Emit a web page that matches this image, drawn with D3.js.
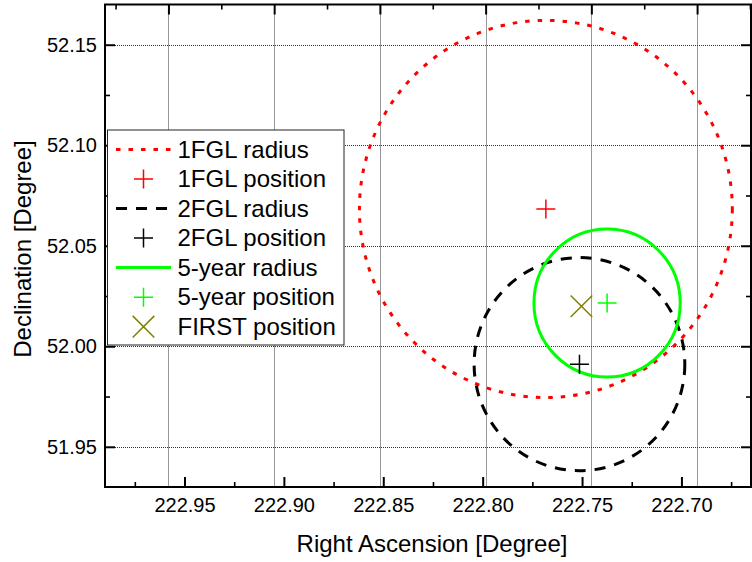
<!DOCTYPE html>
<html>
<head>
<meta charset="utf-8">
<script src="https://cdn.jsdelivr.net/npm/d3@7/dist/d3.min.js"></script>
<style>
  body { margin: 0; background: #fff; }
  text { font-family: "Liberation Sans", Arial, sans-serif; fill: #000; }
</style>
</head>
<body>
<svg id="chart" width="752" height="562"></svg>
<script>
// axis ranges (degrees)
var raRange = [222.99, 222.665];
var raTopRange = [222.98, 222.6745];   // top axis (grid) is offset from bottom one
var decRange = [51.93, 52.17];

var raTicks = [222.95, 222.90, 222.85, 222.80, 222.75, 222.70];
var raMinor = [222.975, 222.925, 222.875, 222.825, 222.775, 222.725, 222.675];
var decTicks = [51.95, 52.00, 52.05, 52.10, 52.15];
var decMinor = [51.975, 52.025, 52.075, 52.125];

// error circles
var circleNames = ['1FGL', '2FGL', '5-year'];
var circleRA = [222.7682, 222.7513, 222.7374];
var circleDec = [52.0683, 51.9911, 52.0215];
var circleRadius = [0.0938, 0.0530, 0.0368];

// FIRST radio position
var firstRA = [222.7503];
var firstDec = [52.0199];

var legendLabels = ['1FGL radius', '1FGL position', '2FGL radius', '2FGL position',
                    '5-year radius', '5-year position', 'FIRST position'];

var styles = {
    '1FGL': { color: '#ff0000', dash: '4.5,8' },
    '2FGL': { color: '#000000', dash: '11,9' },
    '5-year': { color: '#00ff00', dash: null }
};

var pLeft = 105, pRight = 751, pTop = 4.5, pBottom = 487;

var svg = d3.select('#chart');

var x = d3.scaleLinear().domain(raRange).range([pLeft, pRight]);
var xTop = d3.scaleLinear().domain(raTopRange).range([pLeft, pRight]);
var y = d3.scaleLinear().domain(decRange).range([pBottom, pTop]);

svg.append('defs').append('clipPath').attr('id', 'plotclip')
    .append('rect').attr('x', pLeft).attr('y', pTop)
    .attr('width', pRight - pLeft).attr('height', pBottom - pTop);

// grid, follows the top axis
var grid = svg.append('g').attr('stroke', '#333').attr('stroke-width', 1)
    .attr('stroke-dasharray', '1,1');
grid.selectAll('line.v').data(raTicks).enter().append('line')
    .attr('x1', function(d) { return Math.round(xTop(d)) + 0.5; })
    .attr('x2', function(d) { return Math.round(xTop(d)) + 0.5; })
    .attr('y1', pTop).attr('y2', pBottom);
grid.selectAll('line.h').data(decTicks).enter().append('line')
    .attr('y1', function(d) { return Math.round(y(d)) + 0.5; })
    .attr('y2', function(d) { return Math.round(y(d)) + 0.5; })
    .attr('x1', pLeft).attr('x2', pRight);

// circles
var plot = svg.append('g').attr('clip-path', 'url(#plotclip)');
circleNames.forEach(function(name, i) {
    var st = styles[name];
    plot.append('ellipse')
        .attr('cx', x(circleRA[i]))
        .attr('cy', y(circleDec[i]))
        .attr('rx', Math.abs(x(circleRA[i] + circleRadius[i]) - x(circleRA[i])))
        .attr('ry', Math.abs(y(circleDec[i] + circleRadius[i]) - y(circleDec[i])))
        .attr('fill', 'none')
        .attr('stroke', st.color)
        .attr('stroke-width', 3)
        .attr('stroke-dasharray', st.dash);
});

function plus(g, cx, cy, color) {
    g.append('path')
        .attr('d', 'M' + (cx - 9.5) + ',' + cy + 'H' + (cx + 9.5) + 'M' + cx + ',' + (cy - 9.5) + 'V' + (cy + 9.5))
        .attr('stroke', color).attr('stroke-width', 1.5).attr('fill', 'none');
}
function cross(g, cx, cy, color) {
    var s = 10.8;
    g.append('path')
        .attr('d', 'M' + (cx - s) + ',' + (cy - s) + 'L' + (cx + s) + ',' + (cy + s) +
                   'M' + (cx - s) + ',' + (cy + s) + 'L' + (cx + s) + ',' + (cy - s))
        .attr('stroke', color).attr('stroke-width', 1.5).attr('fill', 'none');
}

circleNames.forEach(function(name, i) {
    plus(plot, x(circleRA[i]), y(circleDec[i]), styles[name].color);
});
cross(plot, x(firstRA[0]), y(firstDec[0]), '#808000');

// axes
function styleAxis(g, size) {
    g.select('.domain').remove();
    g.selectAll('.tick line').attr('stroke', '#000').attr('stroke-width', size > 7 ? 2 : 1.6);
    g.selectAll('.tick text').style('font-size', '20px').attr('fill', '#000');
}

svg.append('g').attr('transform', 'translate(0,' + pBottom + ')')
    .call(d3.axisBottom(x).tickValues(raTicks).tickSize(-10).tickPadding(11)
        .tickFormat(d3.format('.2f')))
    .call(styleAxis, 10);
svg.append('g').attr('transform', 'translate(0,' + pBottom + ')')
    .call(d3.axisBottom(x).tickValues(raMinor).tickSize(-5).tickFormat(''))
    .call(styleAxis, 5);

svg.append('g').attr('transform', 'translate(0,' + pTop + ')')
    .call(d3.axisTop(xTop).tickValues(raTicks).tickSize(-10).tickFormat(''))
    .call(styleAxis, 10);
svg.append('g').attr('transform', 'translate(0,' + pTop + ')')
    .call(d3.axisTop(xTop).tickValues(raMinor).tickSize(-5).tickFormat(''))
    .call(styleAxis, 5);

svg.append('g').attr('transform', 'translate(' + pLeft + ',0)')
    .call(d3.axisLeft(y).tickValues(decTicks).tickSize(-10).tickPadding(8)
        .tickFormat(d3.format('.2f')))
    .call(styleAxis, 10);
svg.append('g').attr('transform', 'translate(' + pLeft + ',0)')
    .call(d3.axisLeft(y).tickValues(decMinor).tickSize(-5).tickFormat(''))
    .call(styleAxis, 5);

svg.append('g').attr('transform', 'translate(' + pRight + ',0)')
    .call(d3.axisRight(y).tickValues(decTicks).tickSize(-10).tickFormat(''))
    .call(styleAxis, 10);
svg.append('g').attr('transform', 'translate(' + pRight + ',0)')
    .call(d3.axisRight(y).tickValues(decMinor).tickSize(-5).tickFormat(''))
    .call(styleAxis, 5);

// frame
svg.append('rect').attr('x', pLeft).attr('y', pTop)
    .attr('width', pRight - pLeft).attr('height', pBottom - pTop)
    .attr('fill', 'none').attr('stroke', '#000').attr('stroke-width', 2);

// titles
svg.append('text').attr('x', 432).attr('y', 552).attr('text-anchor', 'middle')
    .style('font-size', '24px').text('Right Ascension [Degree]');
svg.append('text').attr('transform', 'translate(31,249) rotate(-90)')
    .attr('text-anchor', 'middle').style('font-size', '24px').text('Declination [Degree]');

// legend
var lg = svg.append('g');
lg.append('rect').attr('x', 107.5).attr('y', 130).attr('width', 236.5).attr('height', 215)
    .attr('fill', '#fff').attr('stroke', '#222').attr('stroke-width', 1);

var rowY = function(i) { return 149.4 + i * 29.55; };
legendLabels.forEach(function(label, i) {
    var cy = rowY(i);
    lg.append('text').attr('x', 177.5).attr('y', cy + 8.3)
        .style('font-size', '24px').text(label);
    var name = circleNames[Math.floor(i / 2)];
    if (i === 6) {
        cross(lg, 143.5, cy, '#808000');
    } else if (i % 2 === 0) {
        lg.append('line').attr('x1', 116).attr('x2', 171).attr('y1', cy).attr('y2', cy)
            .attr('stroke', styles[name].color).attr('stroke-width', 3)
            .attr('stroke-dasharray', styles[name].dash);
    } else {
        plus(lg, 143.5, cy, styles[name].color);
    }
});
</script>
</body>
</html>
